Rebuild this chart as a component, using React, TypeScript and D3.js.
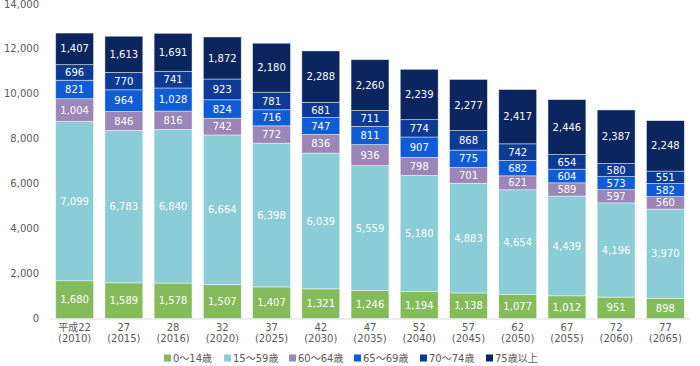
import { useMemo } from "react";
import * as d3 from "d3";

const eraLabels = ["平成22", "27", "28", "32", "37", "42", "47", "52", "57", "62", "67", "72", "77"];
const yearLabels = ["2010", "2015", "2016", "2020", "2025", "2030", "2035", "2040", "2045", "2050", "2055", "2060", "2065"];

const seriesNames = ["0～14歳", "15～59歳", "60～64歳", "65～69歳", "70～74歳", "75歳以上"];

const age0to14 = [1680, 1589, 1578, 1507, 1407, 1321, 1246, 1194, 1138, 1077, 1012, 951, 898];
const age15to59 = [7099, 6783, 6840, 6664, 6398, 6039, 5559, 5180, 4883, 4654, 4439, 4196, 3970];
const age60to64 = [1004, 846, 816, 742, 772, 836, 936, 798, 701, 621, 589, 597, 560];
const age65to69 = [821, 964, 1028, 824, 716, 747, 811, 907, 775, 682, 604, 573, 582];
const age70to74 = [696, 770, 741, 923, 781, 681, 711, 774, 868, 742, 654, 580, 551];
const age75plus = [1407, 1613, 1691, 1872, 2180, 2288, 2260, 2239, 2277, 2417, 2446, 2387, 2248];

const yTicks = [0, 2000, 4000, 6000, 8000, 10000, 12000, 14000];

const colors = ["#84bc5c", "#8acdd6", "#9b86b7", "#0f5cd6", "#0d3b94", "#0b265f"];

const WIDTH = 700;
const HEIGHT = 366;
const PLOT = { left: 50, right: 690, top: 4, bottom: 318.5 };
const FONT = "'DejaVu Sans', 'Noto Sans CJK JP', sans-serif";
const legendX = [164, 224, 289, 354, 420, 486];

export default function App() {
  const series = [age0to14, age15to59, age60to64, age65to69, age70to74, age75plus];

  const rows = useMemo(
    () =>
      eraLabels.map((era, i) => {
        const row: Record<string, number | string> = { era };
        seriesNames.forEach((name, s) => (row[name] = series[s][i]));
        return row;
      }),
    []
  );

  const stacked = useMemo(() => d3.stack<any>().keys(seriesNames)(rows), [rows]);

  const x = d3
    .scaleBand()
    .domain(eraLabels)
    .range([PLOT.left, PLOT.right])
    .paddingInner(0.23)
    .paddingOuter(0.115);

  const y = d3.scaleLinear().domain([0, 14000]).range([PLOT.bottom, PLOT.top]);
  const fmt = d3.format(",");

  return (
    <svg
      width={WIDTH}
      height={HEIGHT}
      style={{ position: "absolute", left: 0, top: 0, display: "block" }}
      fontFamily={FONT}
    >
      {/* y axis labels */}
      {yTicks.map((t) => (
        <text key={t} x={39} y={y(t)} dy="0.35em" textAnchor="end" fontSize={10} fill="#595959">
          {fmt(t)}
        </text>
      ))}

      {/* bars */}
      {stacked.map((layer, s) => (
        <g key={layer.key}>
          {layer.map((d, i) => {
            const bx = x(eraLabels[i])!;
            const y0 = y(d[0]);
            const y1 = y(d[1]);
            return (
              <g key={i}>
                <rect
                  x={bx}
                  y={y1}
                  width={x.bandwidth()}
                  height={y0 - y1}
                  fill={colors[s]}
                  stroke="rgba(255,255,255,0.55)"
                  strokeWidth={0.8}
                />
                <text
                  x={bx + x.bandwidth() / 2}
                  y={(y0 + y1) / 2}
                  dy="0.36em"
                  textAnchor="middle"
                  fontSize={10}
                  fill="#fff"
                >
                  {fmt(d[1] - d[0])}
                </text>
              </g>
            );
          })}
        </g>
      ))}

      {/* baseline */}
      <line x1={PLOT.left} x2={PLOT.right} y1={PLOT.bottom + 0.5} y2={PLOT.bottom + 0.5} stroke="#d9d9d9" />

      {/* x axis labels */}
      {eraLabels.map((era, i) => {
        const cx = x(era)! + x.bandwidth() / 2;
        return (
          <g key={era} fill="#595959" fontSize={10} textAnchor="middle">
            <text x={cx} y={331}>{era}</text>
            <text x={cx} y={342}>({yearLabels[i]})</text>
          </g>
        );
      })}

      {/* legend */}
      {seriesNames.map((name, i) => (
        <g key={name} transform={`translate(${legendX[i]},358)`}>
          <rect x={0} y={-3.5} width={7} height={7} fill={colors[i]} />
          <text x={9} y={0} dy="0.35em" fontSize={10} fill="#595959">
            {name}
          </text>
        </g>
      ))}
    </svg>
  );
}
